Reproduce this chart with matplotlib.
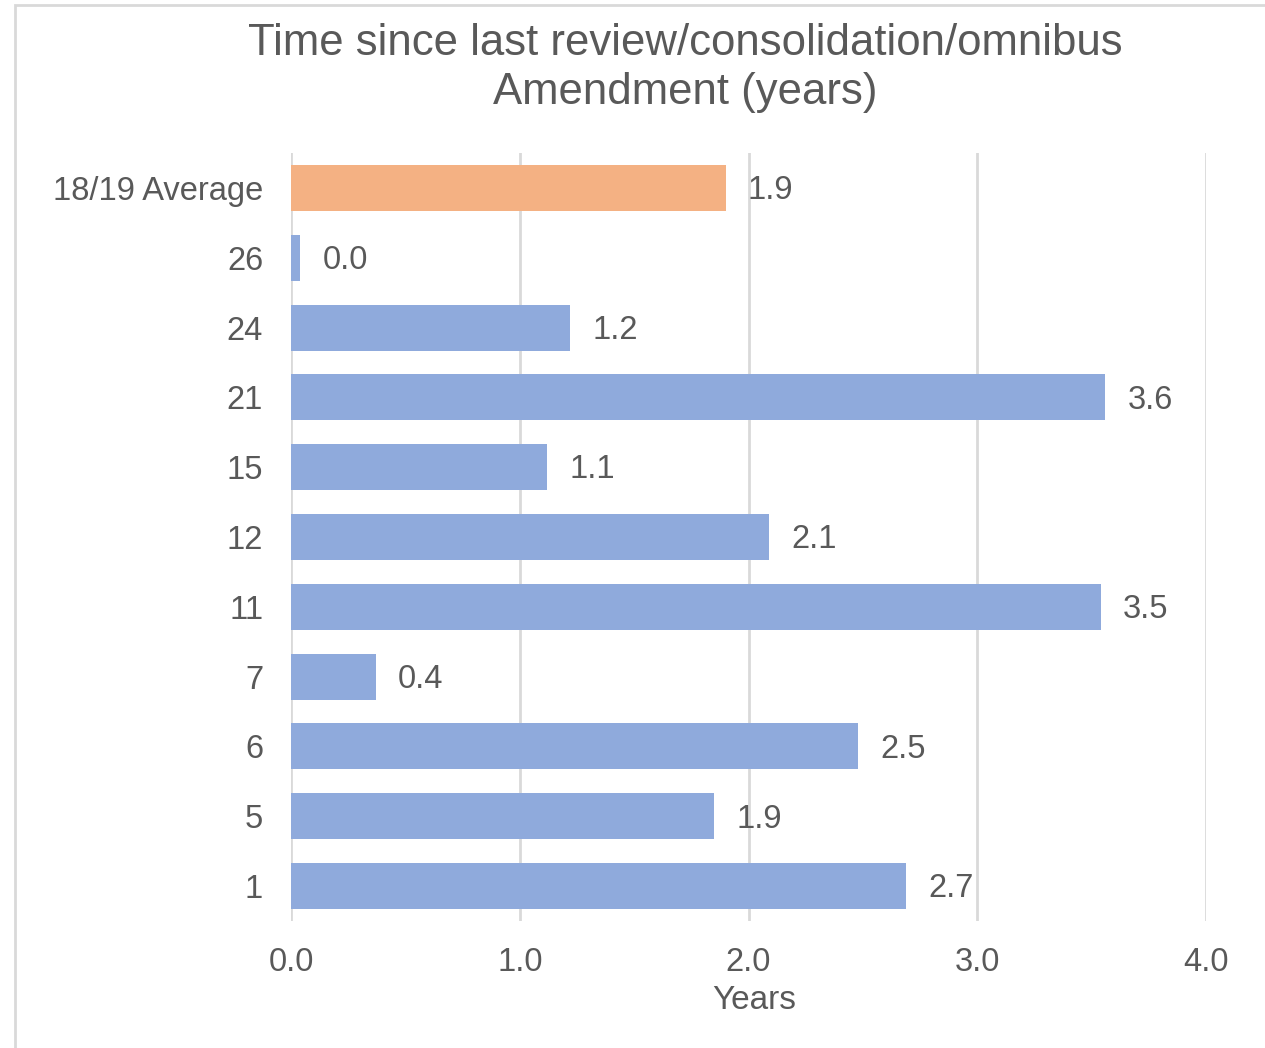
import matplotlib.pyplot as plt
from matplotlib.patches import Rectangle

plt.rcParams['font.family'] = ['Liberation Sans', 'DejaVu Sans']

# data, bottom to top
categories = ['1', '5', '6', '7', '11', '12', '15', '21', '24', '26', '18/19 Average']
years = [2.69, 1.85, 2.48, 0.37, 3.54, 2.09, 1.12, 3.56, 1.22, 0.04, 1.90]
bar_colors = ['#8FAADC'] * 10 + ['#F4B183']
xticks = [0.0, 1.0, 2.0, 3.0, 4.0]

text_col = '#595959'

fig = plt.figure(figsize=(12.65, 10.48), dpi=100)
ax = fig.add_axes([291 / 1265, 1 - 921 / 1048, (1206 - 291) / 1265, (921 - 153) / 1048])

# light frame around the chart area
fig.patches.append(Rectangle((15 / 1265, -0.1), 1.2, 1 - 5 / 1048 + 0.1,
                             transform=fig.transFigure, fill=False,
                             edgecolor='#D9D9D9', linewidth=2))

ypos = list(range(len(categories)))
ax.barh(ypos, years, height=0.66, color=bar_colors, zorder=3)

for y, v in zip(ypos, years):
    ax.annotate('%.1f' % v, xy=(v, y), xytext=(16, -2), textcoords='offset points',
                ha='left', va='center', fontsize=23.5, color=text_col)

ax.set_xlim(0, 4)
ax.set_ylim(-0.5, len(categories) - 0.5)
ax.set_xticks(xticks)
ax.set_xticklabels(['%.1f' % t for t in xticks])
ax.set_yticks(ypos)
ax.set_yticklabels(categories)
ax.tick_params(axis='both', length=0, labelsize=23.5, labelcolor=text_col)
ax.tick_params(axis='y', pad=20)
ax.tick_params(axis='x', pad=19)
ax.grid(axis='x', color='#D9D9D9', linewidth=2, zorder=0)
for s in ax.spines.values():
    s.set_visible(False)

ax.set_xlabel('Years', fontsize=24, color=text_col)
ax.xaxis.set_label_coords(0.506, -0.083)

fig.text(685 / 1265, 1 - 68 / 1048,
         'Time since last review/consolidation/omnibus\nAmendment (years)',
         ha='center', va='center', fontsize=31.5, color=text_col, linespacing=1.22)

fig.savefig('out.png', dpi=100)
